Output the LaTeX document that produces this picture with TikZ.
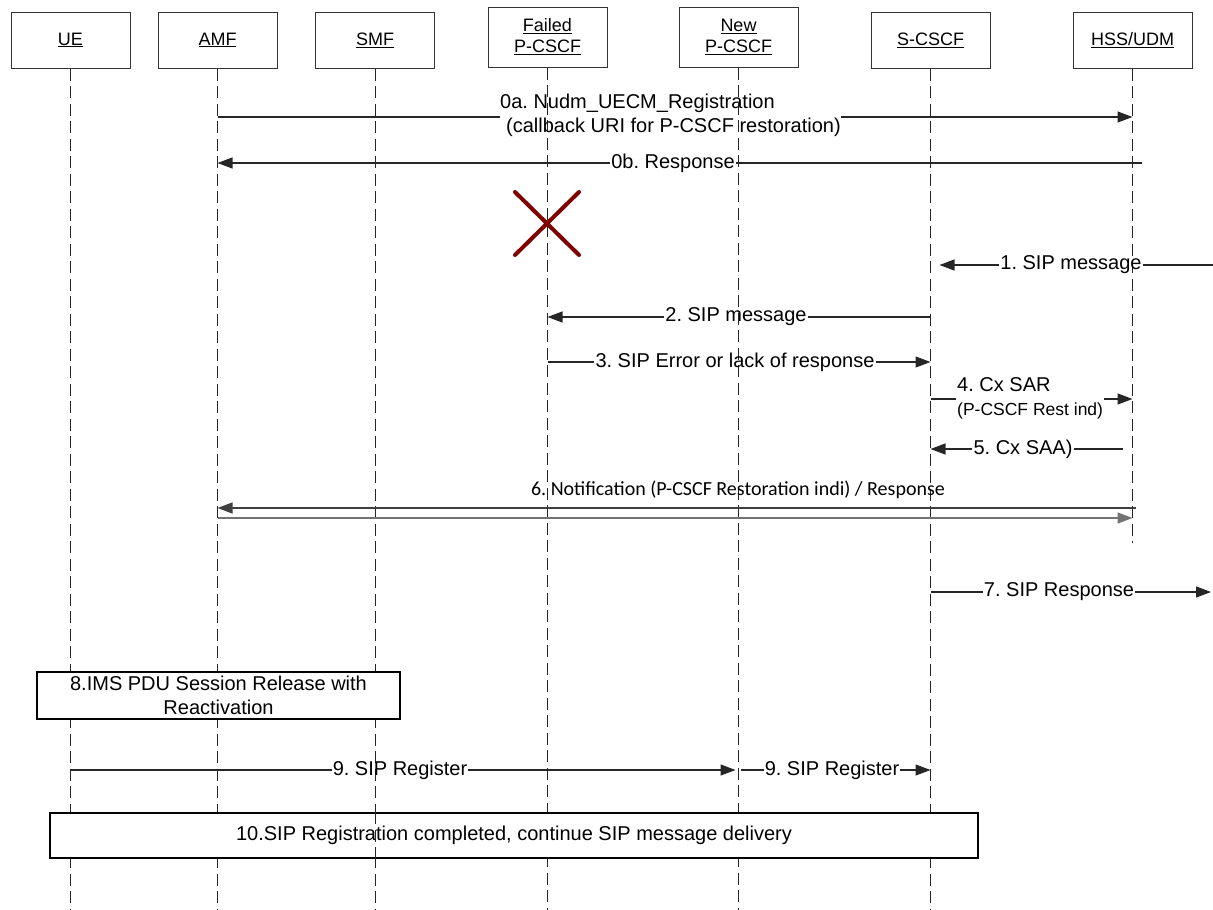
\documentclass[tikz,border=0pt]{standalone}
\usepackage{fontspec}
\setmainfont{Liberation Sans}
\newfontfamily\carlitofont{Carlito}
\usetikzlibrary{arrows.meta}
\definecolor{xred}{RGB}{128,0,0}
\frenchspacing
\begin{document}
\begin{tikzpicture}[x=1pt,y=-1pt,
  hdr/.style={draw=black!80, line width=1pt, minimum width=119pt, minimum height=56pt, inner sep=0pt, font=\fontsize{18}{21}\selectfont, align=center},
  tallhdr/.style={hdr, minimum height=60pt},
  life/.style={draw=black!85, line width=0.9pt, dash pattern=on 12pt off 5.5pt},
  msg/.style={draw=black!85, line width=1.1pt},
  tip/.style={-{Triangle[length=15pt,width=11pt]}},
  lbl/.style={font=\fontsize{20}{24}\selectfont, inner sep=1pt},
  note/.style={draw=black, line width=1.2pt, fill=white, font=\fontsize{20}{24}\selectfont, align=center, inner sep=0pt},
  xmark/.style={draw=xred, line width=4pt, line cap=round}
]
\useasboundingbox (0,0) rectangle (1213,910);

% headers
\node[hdr] (ue) at (70.5,40) {\underline{UE}};
\node[hdr] (amf) at (217.5,40) {\underline{AMF}};
\node[hdr] (smf) at (375,40) {\underline{SMF}};
\node[tallhdr] (fp) at (547.5,37) {\underline{Failed}\\\underline{P-CSCF}};
\node[tallhdr] (np) at (738.5,37) {\underline{New}\\\underline{P-CSCF}};
\node[hdr] (sc) at (930.5,40) {\underline{S-CSCF}};
\node[hdr] (hss) at (1132.5,40) {\underline{HSS/UDM}};

% lifelines
\coordinate (bot) at (0,910);
\coordinate (hssbot) at (0,543);
\coordinate (rightedge) at (1213,0);
\foreach \n in {ue,amf,smf,fp,np,sc} {\draw[life] (\n.south) -- (\n.south |- bot);}
\draw[life] (hss.south) -- (hss.south |- hssbot);

% 0a
\coordinate (r0a) at (0,117);
\node[lbl, anchor=west, align=left, inner sep=0pt] (l0a) at (500,115) {0a. Nudm\_UECM\_Registration\\\hspace*{6pt}(callback URI for P-CSCF restoration)};
\draw[msg] (amf |- r0a) -- (l0a.west |- r0a);
\draw[msg,tip] (l0a.east |- r0a) -- (hss |- r0a);

% 0b
\node[lbl] (l0b) at (673,163) {0b. Response};
\draw[msg] ([xshift=9pt]hss |- l0b) -- (l0b.east);
\draw[msg,tip] (l0b.west) -- (amf |- l0b);

% failure mark
\draw[xmark] (515,192) -- (579,255) (515,255) -- (579,192);

% 1
\node[lbl] (l1) at (1071,265) {1. SIP message};
\draw[msg] (rightedge |- l1) -- (l1.east);
\draw[msg,tip] (l1.west) -- ([xshift=9pt]sc |- l1);

% 2
\node[lbl] (l2) at (736,317) {2. SIP message};
\draw[msg] (sc |- l2) -- (l2.east);
\draw[msg,tip] (l2.west) -- (fp |- l2);

% 3
\node[lbl] (l3) at (735,362) {3. SIP Error or lack of response};
\draw[msg] (fp |- l3) -- (l3.west);
\draw[msg,tip] (l3.east) -- (sc |- l3);

% 4
\coordinate (r4) at (0,399);
\node[lbl, anchor=west, align=left] (l4) at (956,398) {4. Cx SAR\\{\fontsize{17.5}{20}\selectfont (P-CSCF Rest ind)}};
\draw[msg] (sc |- r4) -- (l4.west |- r4);
\draw[msg,tip] (l4.east |- r4) -- (hss |- r4);

% 5
\node[lbl] (l5) at (1023,449) {5. Cx SAA)};
\draw[msg] ([xshift=-10pt]hss |- l5) -- (l5.east);
\draw[msg,tip] (l5.west) -- (sc |- l5);

% 6
\node[font=\carlitofont\fontsize{20}{24}\selectfont, inner sep=0pt] (l6) at (738,490) {6. Notification (P-CSCF Restoration indi) / Response};
\coordinate (r6a) at (0,508);
\coordinate (r6b) at (0,518);
\draw[msg, draw=black!75, line width=1.3pt, tip] ([xshift=3pt]hss |- r6a) -- (amf |- r6a);
\draw[msg, draw=black!55, line width=1.3pt, tip] (amf |- r6b) -- (hss |- r6b);

% 7
\node[lbl] (l7) at (1059,592) {7. SIP Response};
\draw[msg] (sc |- l7) -- (l7.west);
\draw[msg,tip] (l7.east) -- ([xshift=-2pt]rightedge |- l7);

% 8
\node[note, minimum width=363pt, minimum height=47pt] (n8) at (218.5,695.5) {8.IMS PDU Session Release with\\Reactivation};

% 9
\node[lbl] (l9a) at (400,770) {9. SIP Register};
\draw[msg] (ue |- l9a) -- (l9a.west);
\draw[msg,tip] (l9a.east) -- ([xshift=-3pt]np |- l9a);
\node[lbl] (l9b) at (832,770) {9. SIP Register};
\draw[msg] ([xshift=2pt]np |- l9b) -- (l9b.west);
\draw[msg,tip] (l9b.east) -- (sc |- l9b);

% 10
\node[note, minimum width=928pt, minimum height=45pt] (n10) at (514,835.5) {10.SIP Registration completed, continue SIP message delivery};
\draw[life] (smf |- n10.north) -- (smf |- n10.south);
\end{tikzpicture}
\end{document}
